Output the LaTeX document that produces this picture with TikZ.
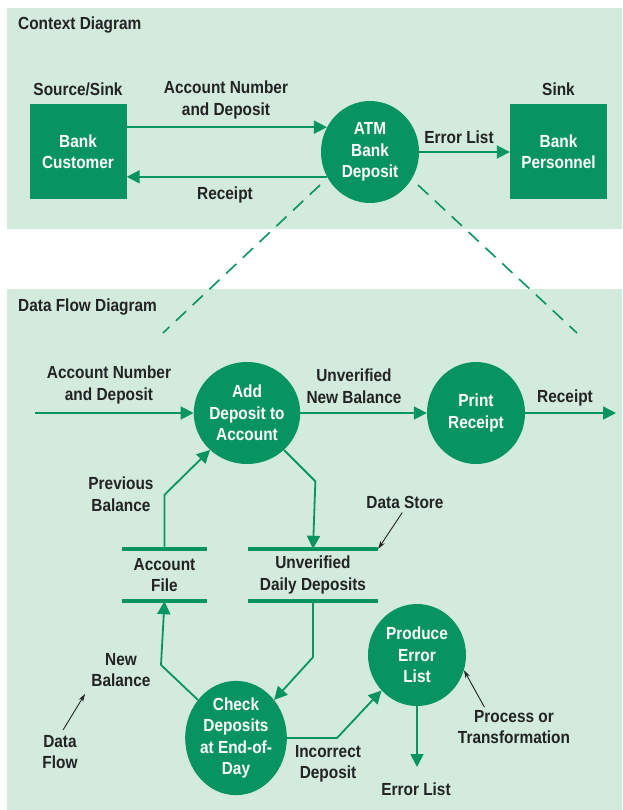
\documentclass[tikz,border=0pt]{standalone}
\usepackage{fontspec}
\setmainfont{Liberation Sans}[FakeStretch=0.88]
\usetikzlibrary{arrows.meta,positioning,shapes.geometric}
\definecolor{dfdgreen}{RGB}{8,148,96}
\definecolor{dfdpanel}{RGB}{210,235,221}
\definecolor{dfdtext}{RGB}{35,35,35}

\begin{document}
\begin{tikzpicture}[x=1pt, y=-1pt,
      font=\fontsize{17.5}{21.5}\selectfont\bfseries,
      panel/.style={fill=dfdpanel},
      lbl/.style={text=dfdtext, align=center, inner sep=0pt},
      title/.style={lbl, anchor=west},
      process/.style={ellipse, fill=dfdgreen, text=white, minimum width=98pt,
                      minimum height=102pt, inner sep=0pt, align=center},
      entity/.style={rectangle, fill=dfdgreen, text=white, minimum width=97pt,
                     minimum height=95pt, inner sep=0pt, align=center},
      store/.style={lbl, minimum height=52pt},
      bar/.style={dfdgreen, line width=4pt},
      flow/.style={dfdgreen, line width=1.8pt, -{Triangle[length=13pt,width=13pt]}},
      zoomline/.style={dfdgreen, line width=1.6pt, dash pattern=on 14pt off 9pt},
      note/.style={dfdtext, line width=0.9pt, -{Stealth[length=8pt,width=5pt]}},
      node distance=8pt
    ]
      \useasboundingbox (0,0) rectangle (622,810);
      \fill[panel] (7,8) rectangle (622,229);
      \fill[panel] (7,289) rectangle (622,810);

      % context diagram
      \node[title] (ctxtitle) at (18,25) {Context Diagram};
      \node[entity] (cust) at (78,151.5) {Bank\\Customer};
      \node[lbl, above=of cust] (srcsink) {Source/Sink};
      \node[process] (atm) at (370,152) {ATM\\Bank\\Deposit};
      \node[entity] (pers) at (558.5,151.5) {Bank\\Personnel};
      \node[lbl, above=of pers] (sink) {Sink};

      \draw[flow] (cust.east |- atm.150) -- (atm.150);
      \node[lbl] (acctno) at (226,100) {Account Number\\and Deposit};
      \draw[flow] (atm.210) -- (cust.east |- atm.210);
      \node[lbl] (rcpt) at (225,195) {Receipt};
      \draw[flow] (atm.east) -- (pers.west |- atm.east);
      \node[lbl] (errlbl) at (459,137) {Error List};

      % zoom lines
      \coordinate (zl0) at (320,185);
      \coordinate (zl1) at (163,333);
      \coordinate (zr0) at (418,185);
      \coordinate (zr1) at (577,333);
      \draw[zoomline] (zl0) -- (zl1);
      \draw[zoomline] (zr0) -- (zr1);

      % data flow diagram
      \node[title] (dfdtitle) at (18,307) {Data Flow Diagram};
      \node[process] (add) at (247,413) {Add\\Deposit to\\Account};
      \node[process] (print) at (476,413) {Print\\Receipt};
      \node[process] (check) at (236,738) {Check\\Deposits\\at End-of-\\Day};
      \node[process] (prod) at (417,655) {Produce\\Error\\List};
      \node[store, minimum width=85pt] (acct) at (164.5,575) {Account\\File};
      \node[store, minimum width=130pt] (dep) at (313,575) {Unverified\\Daily Deposits};
      \foreach \s in {acct,dep} {
        \draw[bar] (\s.north west) -- (\s.north east);
        \draw[bar] (\s.south west) -- (\s.south east);
      }

      \coordinate (inL) at (35,413);
      \coordinate (outR) at (616,413);
      \coordinate (errout) at (417,767);
      \draw[flow] (inL) -- (add);
      \node[lbl] (acctin) at (109,385) {Account Number\\and Deposit};
      \draw[flow] (add) -- (print);
      \node[lbl] (unvbal) at (354,386) {Unverified\\New Balance};
      \draw[flow] (print) -- (outR);
      \node[lbl] (rcptout) at (565,398) {Receipt};

      \draw[flow] (acct.north) -- ++(0,-54) -- (add.225);
      \node[lbl] (prevbal) at (121,494) {Previous\\Balance};
      \draw[flow] (add.-45) -- ++(31.4,31.4) -- (dep.north);
      \draw[flow] (dep.south) -- ++(0,56) -- (check.45);
      \draw[flow] (check.135) -- ++(-36.9,-35) -- (acct.south);
      \node[lbl] (newbal) at (121,670) {New\\Balance};
      \draw[flow] (check.east) -- ++(50,0) -- (prod.225);
      \node[lbl] (incdep) at (328,764) {Incorrect\\Deposit};
      \draw[flow] (prod.south) -- (errout);
      \node[lbl] (errout2) at (416,789) {Error List};

      % annotations
      \node[lbl] (dslbl) at (405,502) {Data Store};
      \draw[note, shorten <=5pt] (dslbl.south) -- (dep.north east);
      \node[lbl] (dflbl) at (60,752) {Data\\Flow};
      \coordinate (dfptr) at (85,694);
      \draw[note, shorten <=6pt] (dflbl.north) -- (dfptr);
      \node[lbl] (proclbl) at (514,727) {Process or\\Transformation};
      \draw[note, shorten <=3pt] ([xshift=-28pt]proclbl.north) -- (prod.-18);
    \end{tikzpicture}
\end{document}
